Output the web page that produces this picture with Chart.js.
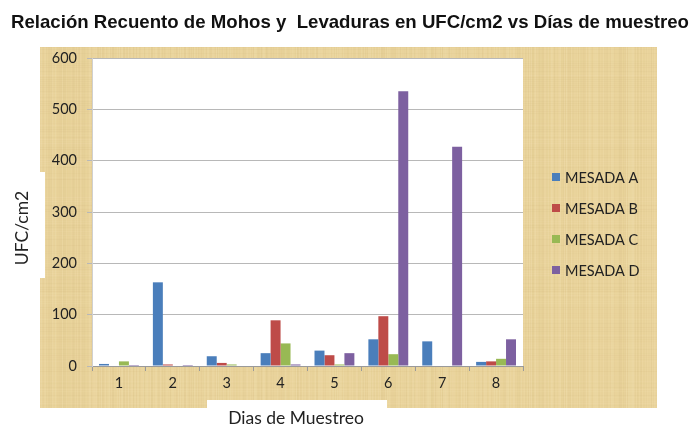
<!DOCTYPE html>
<html>
<head>
<meta charset="utf-8">
<script src="https://cdn.jsdelivr.net/npm/chart.js@4"></script>
<style>
html,body{margin:0;padding:0;background:#fff;}
#wrap{width:694px;height:427px;position:relative;}
</style>
</head>
<body>
<div id="wrap"><canvas id="c" width="694" height="427"></canvas></div>
<script>
const TITLE = 'Relación Recuento de Mohos y  Levaduras en UFC/cm2 vs Días de muestreo';
const X_TITLE = 'Dias de Muestreo';
const Y_TITLE = 'UFC/cm2';
const days = ['1','2','3','4','5','6','7','8'];
const seriesNames = ['MESADA A','MESADA B','MESADA C','MESADA D'];
const mesadaA = [4,163,19,25,30,52,48,8];
const mesadaB = [0,3,6,89,21,97,0,9];
const mesadaC = [9,1,3,44,3,23,0,14];
const mesadaD = [2,2,1,3,25,535,427,52];
const yTicks = [0,100,200,300,400,500,600];
const colors = ['#4A7EBB','#BE4B48','#98B954','#7D60A0'];

const FONT = 'Lato, "Open Sans", sans-serif';

function hash(n){ const s = Math.sin(n*12.9898)*43758.5453; return s - Math.floor(s); }

const decor = {
  id:'decor',
  beforeDraw(chart){
    const ctx = chart.ctx;
    ctx.save();
    // papyrus texture
    const X0=40, Y0=47, X1=657, Y1=408;
    ctx.fillStyle = '#E9D39B';
    ctx.fillRect(X0,Y0,X1-X0,Y1-Y0);
    for(let x=X0;x<X1;x++){
      const h = hash(x);
      ctx.fillStyle = h>0.5 ? 'rgba(250,236,195,'+((h-0.5)*0.35)+')' : 'rgba(190,160,95,'+((0.5-h)*0.18)+')';
      ctx.fillRect(x,Y0,1,Y1-Y0);
    }
    for(let y=Y0;y<Y1;y+=2){
      const h = hash(y*3.7+11);
      ctx.fillStyle = h>0.5 ? 'rgba(250,238,200,'+((h-0.5)*0.2)+')' : 'rgba(180,150,90,'+((0.5-h)*0.12)+')';
      ctx.fillRect(X0,y,X1-X0,1);
    }
    // plot area white
    const a = chart.chartArea;
    ctx.fillStyle = '#fff';
    ctx.fillRect(a.left,a.top,a.right-a.left,a.bottom-a.top);
    // white label boxes
    ctx.fillRect(0,172,45,106);
    ctx.fillRect(207,400,180,27);
    // title
    ctx.fillStyle = '#111';
    ctx.font = 'bold 19px "Liberation Sans", Arial, sans-serif';
    ctx.textBaseline = 'middle';
    const w = ctx.measureText(TITLE).width;
    const target = 678;
    ctx.save();
    ctx.translate(11,23);
    ctx.scale(target/w,1);
    ctx.textAlign = 'left';
    ctx.fillText(TITLE,0,0);
    ctx.restore();
    // axis titles
    ctx.fillStyle = '#222';
    ctx.font = '17.5px ' + FONT;
    ctx.textAlign = 'center';
    ctx.fillText(X_TITLE,296,418);
    ctx.save();
    ctx.translate(22,228);
    ctx.rotate(-Math.PI/2);
    ctx.font = '17.5px ' + FONT;
    ctx.fillText(Y_TITLE,0,0);
    ctx.restore();
    ctx.restore();
  },
  afterDraw(chart){
    const ctx = chart.ctx;
    ctx.save();
    ctx.font = '14.5px ' + FONT;
    ctx.textBaseline = 'middle';
    ctx.textAlign = 'left';
    const ys = [177,208,239,270];
    chart.data.datasets.forEach((ds,i)=>{
      ctx.fillStyle = ds.backgroundColor;
      ctx.fillRect(552,ys[i]-4,8,8);
      ctx.fillStyle = '#222';
      ctx.fillText(ds.label,565,ys[i]+1);
    });
    ctx.restore();
  }
};

const datasets = [mesadaA,mesadaB,mesadaC,mesadaD].map((d,i)=>({
  label: seriesNames[i],
  data: d,
  backgroundColor: colors[i],
  borderWidth: 0,
  barPercentage: 1.0,
  categoryPercentage: 0.74
}));

new Chart(document.getElementById('c'),{
  type:'bar',
  data:{labels:days,datasets},
  options:{
    responsive:false,
    animation:false,
    devicePixelRatio:1,
    layout:{padding:{top:58,right:171,bottom:0,left:0}},
    plugins:{legend:{display:false},title:{display:false},tooltip:{enabled:false}},
    scales:{
      x:{
        grid:{offset:true,drawOnChartArea:false,drawTicks:true,tickLength:5,color:'#9a9a9a'},
        border:{display:true,color:'#9a9a9a'},
        ticks:{font:{family:FONT,size:14.5},color:'#222',padding:4},
        afterFit(s){ s.height = 61; }
      },
      y:{
        min:0,max:600,
        afterBuildTicks(s){ s.ticks = yTicks.map(v=>({value:v})); },
        grid:{color:'#b8b8b8',tickLength:5,drawTicks:true},
        border:{display:true,color:'#d0d0d0'},
        ticks:{font:{family:FONT,size:14.5},color:'#222',padding:10},
        afterFit(s){ s.width = 92; }
      }
    }
  },
  plugins:[decor]
});
</script>
</body>
</html>
